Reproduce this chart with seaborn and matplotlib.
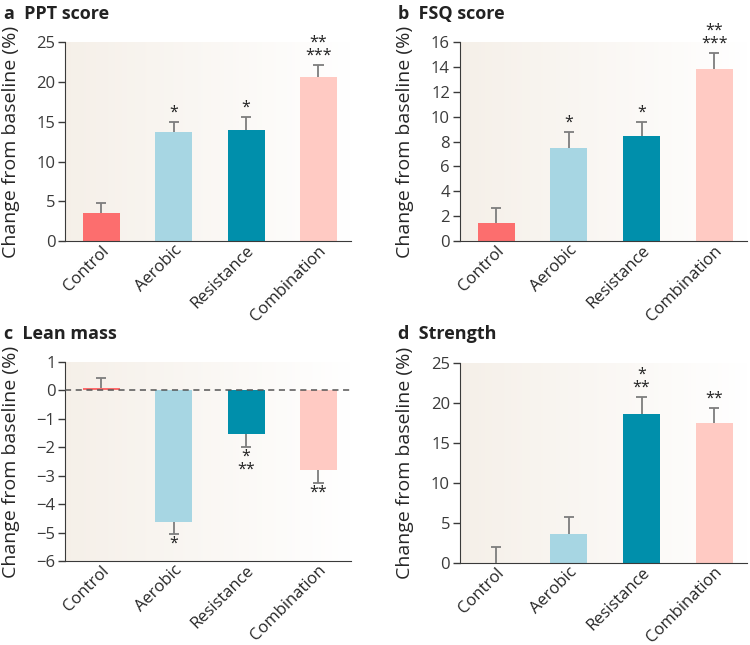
"""
Change from baseline by exercise group: PPT, FSQ, lean mass, strength
"""

import matplotlib
matplotlib.use("Agg")
import matplotlib.pyplot as plt
import matplotlib.transforms as mtransforms
import numpy as np
import pandas as pd
import seaborn as sns

groups = ["Control", "Aerobic", "Resistance", "Combination"]
colors = ["#fc6e6e", "#a7d6e3", "#008fab", "#ffcac3"]

ppt_mean = [3.5, 13.7, 14.0, 20.6]
ppt_sem = [1.3, 1.3, 1.6, 1.5]
ppt_stars = ["", "*", "*", "**\n***"]

fsq_mean = [1.5, 7.45, 8.45, 13.85]
fsq_sem = [1.15, 1.3, 1.15, 1.25]
fsq_stars = ["", "*", "*", "**\n***"]

lean_mean = [0.08, -4.62, -1.55, -2.8]
lean_sem = [0.35, 0.43, 0.45, 0.45]
lean_stars = ["", "*", "*\n**", "**"]

strength_mean = [0.0, 3.6, 18.7, 17.5]
strength_sem = [2.0, 2.2, 2.1, 1.9]
strength_stars = ["", "", "*\n**", "**"]

panels = [
    ("a", "PPT score", ppt_mean, ppt_sem, ppt_stars, (0, 25), [0, 5, 10, 15, 20, 25]),
    ("b", "FSQ score", fsq_mean, fsq_sem, fsq_stars, (0, 16), list(range(0, 17, 2))),
    ("c", "Lean mass", lean_mean, lean_sem, lean_stars, (-6, 1), list(range(-6, 2))),
    ("d", "Strength", strength_mean, strength_sem, strength_stars, (0, 25), [0, 5, 10, 15, 20, 25]),
]

# posizioni assi in frazioni di figura (left, bottom, width, height)
axes_pos = {
    "a": [0.087, 0.626, 0.381, 0.309],
    "b": [0.613, 0.626, 0.383, 0.309],
    "c": [0.087, 0.130, 0.381, 0.309],
    "d": [0.613, 0.127, 0.383, 0.310],
}
title_pos = {"a": (0.006, 0.978), "b": (0.531, 0.978), "c": (0.006, 0.482), "d": (0.531, 0.482)}

sns.set_style("ticks")
plt.rcParams["font.family"] = ["Open Sans", "DejaVu Sans"]
plt.rcParams["axes.edgecolor"] = "#3a3a3a"
plt.rcParams["ytick.color"] = "#3a3a3a"
plt.rcParams["text.color"] = "#222222"

fig = plt.figure(figsize=(7.5, 6.45), dpi=100)

# sfondo sfumato beige -> bianco
grad = np.linspace(0, 1, 256)
bg_left = np.array([0.962, 0.940, 0.912])
bg_right = np.array([1.0, 1.0, 1.0])
bg = bg_left[None, :] * (1 - grad[:, None]) + bg_right[None, :] * grad[:, None]
bg_img = bg[None, :, :]

for letter, title, means, sems, stars, ylim, yticks in panels:
    ax = fig.add_axes(axes_pos[letter])
    ax.imshow(bg_img, extent=[0, 1, 0, 1], transform=ax.transAxes,
              aspect="auto", zorder=0)

    df = pd.DataFrame({"group": groups, "value": means})
    sns.barplot(data=df, x="group", y="value", hue="group", palette=colors,
                order=groups, hue_order=groups, legend=False, errorbar=None,
                saturation=1, width=0.51, linewidth=0, ax=ax, zorder=2)

    x = np.arange(len(groups))
    means_arr = np.array(means)
    sign = np.where(means_arr < 0, -1, 1)
    tips = means_arr + sign * np.array(sems)
    ax.vlines(x, means_arr, tips, color="#7d7d7d", lw=1.3, zorder=3)
    ax.hlines(tips, x - 0.07, x + 0.07, color="#7d7d7d", lw=1.3, zorder=3)

    for xi, tip, s, sg in zip(x, tips, stars, sign):
        if not s:
            continue
        ax.annotate(s, (xi, tip), xytext=(0, 1 * sg), textcoords="offset points",
                    ha="center", va="bottom" if sg > 0 else "top",
                    fontsize=11.5, linespacing=0.72, zorder=4)

    if letter == "c":
        ax.axhline(0, color="#555555", lw=1.1, ls=(0, (4, 3)), zorder=3)

    ax.set_xlim(-0.5, 3.45)
    ax.set_ylim(*ylim)
    ax.set_yticks(yticks)
    ax.set_yticklabels(["\u2212" + str(-t) if t < 0 else str(t) for t in yticks])
    ax.set_xlabel("")
    ax.set_ylabel("Change from baseline (%)", fontsize=14)
    ax.yaxis.set_label_coords(-0.16, 0.5)
    ax.tick_params(axis="y", labelsize=12, length=5, width=1, pad=2)
    ax.tick_params(axis="x", length=0, pad=1)
    ax.set_xticks(x)
    ax.set_xticklabels(groups, rotation=45, ha="right", fontsize=12)
    offset = mtransforms.ScaledTranslation(8 / 72, 0, fig.dpi_scale_trans)
    for lbl in ax.get_xticklabels():
        lbl.set_transform(lbl.get_transform() + offset)
    sns.despine(ax=ax)

    fig.text(*title_pos[letter], f"{letter}  {title}", fontsize=13,
             fontweight="bold", ha="left", va="center")

plt.savefig("out.png", dpi=100)
plt.close()
